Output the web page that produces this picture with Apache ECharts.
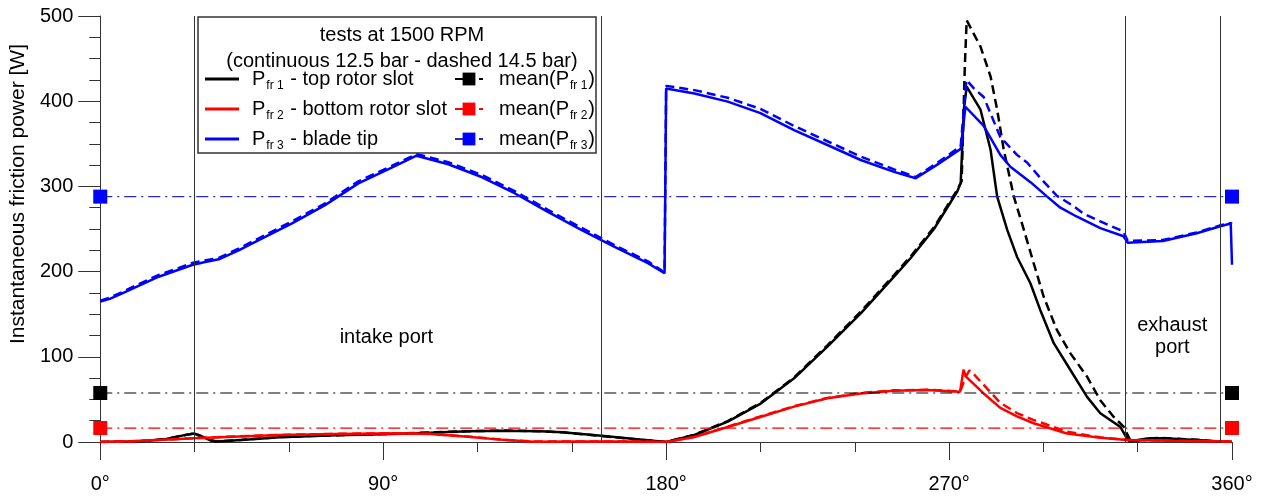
<!DOCTYPE html>
<html>
<head>
<meta charset="utf-8">
<script src="https://cdn.jsdelivr.net/npm/echarts@6/dist/echarts.min.js"></script>
<style>html,body{margin:0;padding:0;background:#fff;}#c{width:1263px;height:500px;}</style>
</head>
<body>
<div id="c"></div>
<script>
// ---- data (crank angle in degrees, friction power in W) ----
const p1Solid = [[0,0],[10,0.5],[15,1.5],[21,3.5],[26,7.5],[29.8,10],[32,7],[35,2],[37,0.5],[45,2.3],[57,5.5],[75,7.8],[93,9.5],[105,11],[117,12.5],[128,13.3],[140,12.6],[147,11.5],[159.4,7.2],[170,3.5],[180,0],[189,8.2],[199.6,23.9],[210.2,45.4],[220.7,74.7],[231.3,112],[241.9,151],[252.5,194],[257.8,216],[265.2,250],[272.6,294],[273.7,304],[274.7,390],[275.6,417],[280,390],[283.2,343],[285.3,288],[288.5,249],[291.6,217.5],[295.9,186],[299,155],[303.3,116],[308.6,84.5],[313.9,53],[318.1,33.7],[324.4,18],[326.6,4.3],[327.5,0.5],[333,4],[338,4.5],[348.8,2.3],[356,0.5],[360,0]];
const p1Dashed = [[0,0],[10,0.5],[15,1.5],[21,3.5],[26,7.5],[29.8,10],[32,7],[35,2],[37,0.5],[45,2.5],[57,5.8],[75,8],[93,9.7],[105,11.2],[117,12.7],[128,13.4],[140,12.6],[147,11.4],[159.4,7],[170,3.3],[180,0],[189,8.5],[199.6,24.5],[210.2,46.3],[220.7,75.8],[231.3,113.5],[241.9,153],[252.5,196],[257.8,218],[265.2,252],[272.6,296],[274,306],[275,440],[275.6,495],[280,464],[283.2,429],[285.3,390],[287.4,343],[290.6,288],[293.8,249],[296.9,210],[300.1,170.5],[304.3,131.5],[308.6,104],[313.9,76.6],[318.1,49],[322.3,29.7],[325.5,18],[327.6,2.3],[329,0.5],[333,4],[338,4.8],[348.8,2.5],[356,0.5],[360,0]];
const p2Solid = [[0,0],[10,0.8],[20,2.5],[29.6,4.3],[40,6],[57,8.2],[75,9.5],[95,10.2],[105,9.5],[117,6.3],[128,2.5],[138,0.4],[150,0.5],[170,0.5],[180,0],[189,5.9],[199.6,17.6],[210.2,29.7],[220.7,41.5],[231.3,51.3],[241.9,57],[252.5,60.2],[263,61],[273.5,59],[274.6,85],[275.3,77],[281,57],[286.3,40],[291.6,30],[296.9,22],[307.5,10],[318.1,5],[326.6,2.3],[340,1.5],[360,0.5]];
const p2Dashed = [[0,0],[10,0.8],[20,2.6],[29.6,4.4],[40,6.1],[57,8.3],[75,9.6],[95,10.3],[105,9.6],[117,6.4],[128,2.6],[138,0.5],[150,0.5],[170,0.5],[180,0],[189,6],[199.6,18],[210.2,30.2],[220.7,42],[231.3,51.8],[241.9,57.5],[252.5,60.6],[263,61.3],[273.5,59.3],[275.5,78],[276.5,84],[278,79],[286.3,46],[291.6,34],[296.8,26],[307.5,12],[318,5.5],[326.6,2.5],[340,1.6],[360,0.5]];
const p3Solid = [[0,164.7],[3,168],[7,174.5],[12,183],[18.6,194],[24,201],[29.2,207.7],[33,211],[37.7,214.4],[44,225],[50.4,237],[61,256.6],[71.5,278],[82.1,303.6],[92.7,322],[100.6,336],[110.7,326],[121.3,311],[131.8,292],[142.4,270],[153,249],[163.6,229],[174.2,210],[179.5,198],[180,198],[180,415],[189,409],[199.6,399.5],[210,386],[220.7,366],[231.3,348.6],[241.9,331],[252.5,317],[259.4,309.5],[266,325],[273.7,344],[275.2,393.5],[281,371],[286.3,337],[289.5,323],[295.9,305],[301.2,288],[305.4,275],[310.7,264.4],[318.1,251],[325.5,241.5],[326.8,234],[338,236],[348.8,245],[356,253],[359.6,256.5],[360,256],[360,208]];
const p3Dashed = [[0,166],[3,169.5],[7,176],[12,185],[18.6,196],[24,203],[29.2,210],[33,213],[37.7,216],[44,227],[50.4,239],[61,259],[71.5,280],[82.1,306],[92.7,324],[100.6,338],[110.7,328.5],[121.3,313.5],[131.8,294.5],[142.4,272.5],[153,251.5],[163.6,231],[174.2,212],[179.5,199],[180,199],[180,418],[189,413],[199.6,404],[210,391],[220.7,371],[231.3,353],[241.9,335],[252.5,320],[259.4,311],[266,327],[273.7,347],[275.5,425],[277.9,415],[281,405],[286.3,358],[291.6,337],[294.8,328],[299,310],[304.3,289],[309.5,277],[312.8,268],[318.1,259],[325.5,247],[326.8,236],[338,237],[348.8,246],[356,254],[359.6,257],[360,256]];
const meanValues = [57.5, 16.4, 288];          // mean(Pfr1), mean(Pfr2), mean(Pfr3)
const portLines = [30, 159.4, 326, 356.2];      // vertical reference lines (deg)
const xTicks = [0, 90, 180, 270, 360];
const yTicks = [0, 100, 200, 300, 400, 500];
const legendNames = ['top rotor slot', 'bottom rotor slot', 'blade tip'];
const portLabels = [{text: 'intake port', coord: [91, 123]}, {text: 'exhaust\nport', coord: [341, 124]}];

const colors = ['#000000', '#ff0000', '#0000ff'];
const meanColors = ['#000000', '#ff0000', '#2a2ab8'];
const FONT = 'Liberation Sans, Arial, sans-serif';
const rich = {
  m: {fontSize: 20, fontFamily: FONT, color: '#000', lineHeight: 26, verticalAlign: 'middle'},
  s: {fontSize: 12, fontFamily: FONT, color: '#000', lineHeight: 12, verticalAlign: 'bottom', padding: [0, 1, 0, 1]}
};

const chart = echarts.init(document.getElementById('c'), null, {renderer: 'canvas'});
const lineNames = ['P1', 'P2', 'P3'];
const meanNames = ['M1', 'M2', 'M3'];
const solids = [p1Solid, p2Solid, p3Solid];
const dashes = [p1Dashed, p2Dashed, p3Dashed];

const series = [];
[0, 2, 1].forEach(function (i) {
  series.push({
    name: lineNames[i], type: 'line', data: solids[i], symbol: 'none', showSymbol: false,
    lineStyle: {color: colors[i], width: 2.5}, itemStyle: {color: colors[i]}, z: 3,
    markLine: i === 0 ? {
      silent: true, symbol: 'none', label: {show: false},
      lineStyle: {color: '#333', width: 1, type: 'solid'},
      data: portLines.map(function (v) { return {xAxis: v}; })
    } : undefined,
    markPoint: i === 0 ? {
      symbol: 'circle', symbolSize: 0, silent: true,
      label: {show: true, position: 'inside', color: '#000', fontSize: 20, fontFamily: FONT, lineHeight: 22,
        formatter: function (p) { return p.name; }},
      data: portLabels.map(function (p) { return {name: p.text, coord: p.coord}; })
    } : undefined
  });
  series.push({
    name: lineNames[i] + 'd', type: 'line', data: dashes[i], symbol: 'none', showSymbol: false,
    lineStyle: {color: colors[i], width: 2.5, type: [9, 5]}, itemStyle: {color: colors[i]}, z: 3
  });
});
for (let i = 0; i < 3; i++) {
  series.push({
    name: meanNames[i], type: 'line', data: [[0, meanValues[i]], [360, meanValues[i]]],
    symbol: 'rect', symbolSize: 14, clip: false, z: 4,
    lineStyle: {color: meanColors[i], width: 1.2, type: [12, 5, 2, 5]},
    itemStyle: {color: colors[i]}
  });
}

const subs = ['fr 1', 'fr 2', 'fr 3'];
chart.setOption({
  animation: false,
  textStyle: {fontFamily: FONT},
  title: {
    text: 'tests at 1500 RPM\n(continuous 12.5 bar - dashed 14.5 bar)',
    left: 397, top: 17, textAlign: 'center',
    textStyle: {fontSize: 20, fontWeight: 'normal', color: '#000', fontFamily: FONT, lineHeight: 26},
    z: 10
  },
  grid: {left: 98, right: 31, top: 16, bottom: 58, containLabel: false},
  legend: [{
    data: lineNames, orient: 'vertical', left: 200, top: 64, itemWidth: 34, itemHeight: 16, itemGap: 7,
    icon: 'path://M0,6.6 L34,6.6 L34,9.4 L0,9.4 Z',
    formatter: function (n) { const i = lineNames.indexOf(n); return '{m|P}{s|' + subs[i] + '}{m| - ' + legendNames[i] + '}'; },
    textStyle: {rich: rich, padding: [0, 0, 0, 8]}, z: 10, selectedMode: false
  }, {
    data: meanNames, orient: 'vertical', left: 449, top: 64, itemWidth: 28, itemHeight: 16, itemGap: 7,
    formatter: function (n) { const i = meanNames.indexOf(n); return '{m|mean(P}{s|' + subs[i] + '}{m|)}'; },
    textStyle: {rich: rich, padding: [0, 0, 0, 11]}, z: 10, selectedMode: false
  }],
  graphic: [{
    type: 'rect', shape: {x: 198, y: 17, width: 398, height: 136},
    style: {fill: '#fff', stroke: '#333', lineWidth: 1.5}, z: 5, silent: true
  }],
  xAxis: {
    type: 'value', min: 0, max: 360, interval: 90,
    axisLine: {show: true, onZero: false, lineStyle: {color: '#333', width: 1}},
    axisTick: {show: true, length: 18, lineStyle: {color: '#333'}},
    minorTick: {show: true, splitNumber: 3, length: 10, lineStyle: {color: '#333'}},
    splitLine: {show: false},
    axisLabel: {fontSize: 20, color: '#000', margin: 32, fontFamily: FONT,
      formatter: function (v) { return xTicks.indexOf(v) >= 0 ? v + '°' : ''; }}
  },
  yAxis: {
    type: 'value', min: 0, max: 500, interval: 100,
    name: 'Instantaneous friction power [W]', nameLocation: 'middle', nameGap: 69,
    nameTextStyle: {fontSize: 21, color: '#000', fontFamily: FONT, padding: [0, 0, 0, 70]},
    axisLine: {show: true, lineStyle: {color: '#333', width: 1}},
    axisTick: {show: true, length: 22, lineStyle: {color: '#333'}},
    minorTick: {show: true, splitNumber: 4, length: 11, lineStyle: {color: '#333'}},
    splitLine: {show: false},
    axisLabel: {fontSize: 20, color: '#000', margin: 27, fontFamily: FONT,
      formatter: function (v) { return yTicks.indexOf(v) >= 0 ? String(v) : ''; }}
  },
  series: series
});
</script>
</body>
</html>
